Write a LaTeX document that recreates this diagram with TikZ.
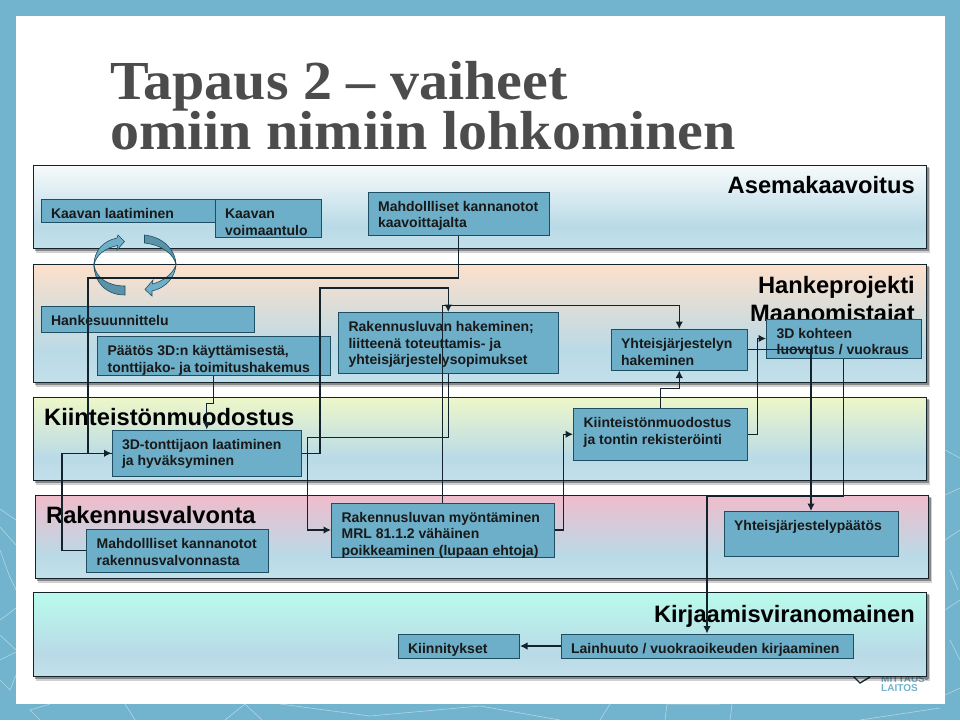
\documentclass[tikz,border=0pt]{standalone}
\usepackage{fontspec}
\setmainfont{Liberation Sans}
\newfontfamily\titlefont[FakeStretch=1.055]{Liberation Serif}
\usetikzlibrary{arrows.meta}

\definecolor{framecol}{HTML}{72B4CD}
\definecolor{boxfill}{HTML}{6DAEC8}
\definecolor{boxedge}{HTML}{1F4E63}
\definecolor{lineink}{HTML}{14232B}
\definecolor{ringlight}{HTML}{6FB0C8}
\definecolor{ringdark}{HTML}{5A93A8}
\definecolor{bandlow}{HTML}{C3E0EA}
\definecolor{bandmid}{HTML}{B9DAE7}
\definecolor{topplan}{HTML}{F7FBFB}
\definecolor{topproj}{HTML}{FDE0CB}
\definecolor{topkiin}{HTML}{EEF7C8}
\definecolor{toprak}{HTML}{F0BCCB}
\definecolor{topkirj}{HTML}{B9FBEC}

% --- vertical fills of the bands: 25bp is the lower edge, 75bp the upper edge ---
\pgfdeclareverticalshading{bandplan}{100bp}{color(0bp)=(bandlow);color(25bp)=(bandlow);color(38bp)=(bandmid);color(75bp)=(topplan);color(100bp)=(topplan)}
\pgfdeclareverticalshading{bandproj}{100bp}{color(0bp)=(bandlow);color(25bp)=(bandlow);color(38bp)=(bandmid);color(75bp)=(topproj);color(100bp)=(topproj)}
\pgfdeclareverticalshading{bandkiin}{100bp}{color(0bp)=(bandlow);color(25bp)=(bandlow);color(38bp)=(bandmid);color(75bp)=(topkiin);color(100bp)=(topkiin)}
\pgfdeclareverticalshading{bandrak}{100bp}{color(0bp)=(bandlow);color(25bp)=(bandlow);color(38bp)=(bandmid);color(75bp)=(toprak);color(100bp)=(toprak)}
\pgfdeclareverticalshading{bandkirj}{100bp}{color(0bp)=(bandlow);color(25bp)=(bandlow);color(38bp)=(bandmid);color(75bp)=(topkirj);color(100bp)=(topkirj)}

\tikzset{
  bandbox/.style={draw=lineink,line width=0.9pt,inner sep=0pt},
  stepbox/.style={draw=boxedge,fill=boxfill,line width=1pt,inner sep=0pt},
  boxtext/.style={anchor=north west,inner sep=0pt,align=left,xshift=10.4pt,yshift=-8.8pt,
    text=black!90,font=\fontsize{14}{16.7}\selectfont\bfseries},
  heading/.style={inner sep=0pt,text=black,font=\fontsize{23.7}{28}\selectfont\bfseries},
  link/.style={draw=lineink,line width=1.3pt},
  linkarrow/.style={link,-{Latex[length=7.5pt,width=7.5pt]}},
  ringline/.style={draw=boxedge,line width=0.6pt},
}

\begin{document}
\begin{tikzpicture}[x=1pt,y=-1pt]

  \def\boxstrut{\rule{0pt}{10.5pt}}
  \useasboundingbox (0,0) rectangle (960,720);

  % --- slide frame with its map pattern ---
  \fill[framecol] (0,0) rectangle (960,720);
  \foreach \pts in {%
    {(0,509) -- (16,520)}, {(0,527) -- (16,545)}, {(0,550) -- (9,575) -- (16,590)},
    {(0,620) -- (16,608)}, {(0,635) -- (16,650)}, {(0,660) -- (16,652)},
    {(0,680) -- (10,690) -- (16,675)}, {(40,720) -- (30,710) -- (50,704)},
    {(125,704) -- (135,720)}, {(225,720) -- (245,704) -- (262,720)},
    {(280,704) -- (370,716) -- (480,706) -- (560,720)}, {(600,720) -- (610,704)},
    {(665,720) -- (667,704) -- (720,704)}, {(730,720) -- (732,704)},
    {(860,720) -- (940,708)}, {(945,450) -- (960,458)}, {(945,495) -- (960,488)},
    {(945,540) -- (960,530)}, {(950,570) -- (958,590)}, {(945,610) -- (960,600)},
    {(950,640) -- (960,660)}, {(945,695) -- (960,688)}%
  } {
    \draw[white,opacity=0.45,line width=0.6pt] \pts;
  }
  \fill[white] (16,16) rectangle (945,704);

  % --- logo, the lowest band hides part of it ---
  \draw[boxedge!60!black,line width=1.4pt] (853,676) -- (860,683) -- (870,677);
  \node[anchor=south west,inner sep=0pt,align=left,text=framecol,
    font=\fontsize{10}{9.5}\selectfont\bfseries] (logo) at (881,692) {MITTAUS-\\LAITOS};

  % --- title ---
  \node[anchor=north west,inner sep=0pt,align=left,text=black!70,
    font=\fontsize{55}{50}\selectfont\titlefont\bfseries] (title) at (110,61.5)
    {Tapaus 2 – vaiheet\\omiin nimiin lohkominen};

  % --- five bands ---
  \foreach \nm/\xa/\ya/\xb/\yb/\shd in {%
    plan/33.5/165/926/248/bandplan,
    proj/33.5/264/926/382/bandproj,
    kiin/33.5/397/926/480/bandkiin,
    rak/35.5/495/928/578/bandrak,
    kirj/33.5/592/926/676/bandkirj%
  } {
    \fill[black,opacity=0.18] (\xa+2,\ya+3) rectangle (\xb+4,\yb+5);
    \fill[black,opacity=0.35] (\xa+1,\ya+2) rectangle (\xb+2.5,\yb+3);
    \shade[shading=\shd] (\xa,\ya) rectangle (\xb,\yb);
    \draw[bandbox] (\xa,\ya) rectangle (\xb,\yb);
  }

  % --- band headings ---
  \node[heading,anchor=base east] (hplan) at (915,193) {Asemakaavoitus};
  \node[heading,anchor=base east] (hproj) at (915,293) {Hankeprojekti};
  \node[heading,anchor=base east] (hmaan) at (915,321) {Maanomistajat};
  \node[heading,anchor=base west] (hkiin) at (44,425) {Kiinteistönmuodostus};
  \node[heading,anchor=base west] (hrak) at (46,523) {Rakennusvalvonta};
  \node[heading,anchor=base east] (hkirj) at (915,622) {Kirjaamisviranomainen};

  % --- step boxes: name, centre, width, height, text ---
  \foreach \nm/\cx/\cy/\w/\h/\txt in {%
    laadinta/128/210.75/174/22.5/{Kaavan laatiminen},
    voimaan/268.25/218.5/106.5/38/{Kaavan\\voimaantulo},
    kaavoitus/458.75/213.5/181.5/43/{Mahdollliset kannanotot\\kaavoittajalta},
    suunnittelu/147.75/319.4/213.5/25.3/{Hankesuunnittelu},
    paatos/213.75/356.1/232.5/39.2/{Päätös 3D:n käyttämisestä,\\tonttijako- ja toimitushakemus},
    rakhaku/448.25/342.75/219.5/60.5/{Rakennusluvan hakeminen;\\liitteenä toteuttamis- ja\\yhteisjärjestelysopimukset},
    yhthaku/679.25/349.75/136.5/40.5/{Yhteisjärjestelyn\\hakeminen},
    kohde/843.75/338.5/154.5/39/{3D kohteen\\luovutus / vuokraus},
    tonttijako/206.75/453.25/189.5/46.5/{3D-tonttijaon laatiminen\\ja hyväksyminen},
    rekisteri/660.5/434.25/174/51.5/{Kiinteistönmuodostus\\ja tontin rekisteröinti},
    rakkanta/177.25/550.75/181.5/42.5/{Mahdollliset kannanotot\\rakennusvalvonnasta},
    myonto/442.75/530/222.5/54/{Rakennusluvan myöntäminen\\MRL 81.1.2 vähäinen\\poikkeaminen (lupaan ehtoja)},
    yhtpaatos/811/534/174/45/{Yhteisjärjestelypäätös},
    kiinnitys/458.75/646/121.5/24/{Kiinnitykset},
    lainhuuto/707/646/292/24/{Lainhuuto / vuokraoikeuden kirjaaminen}%
  } {
    \node[stepbox,minimum width=\w pt,minimum height=\h pt] (\nm) at (\cx,\cy) {};
    \node[boxtext] (\nm txt) at (\nm.north west) {\boxstrut\txt};
  }

  % --- circular arrows between the two upper bands ---
  \filldraw[ringline,fill=ringdark] (125,295) .. controls (105,295) and (94,281) .. (94,265)
    .. controls (96,278) and (108,286) .. (125,286) -- cycle;
  \filldraw[ringline,fill=ringlight] (94,265) .. controls (94,251) and (103,241) .. (117,238)
    -- (118,235) -- (124.5,241.5) -- (117,250) -- (117.5,245.5)
    .. controls (105,248) and (96,255) .. (94,265) -- cycle;
  \filldraw[ringline,fill=ringdark] (144.5,235) .. controls (163,237) and (176,250) .. (176,265)
    .. controls (174,254) and (162,245) .. (144.5,243) -- cycle;
  \filldraw[ringline,fill=ringlight] (176,265) .. controls (175,277) and (166,288) .. (152,291)
    -- (152,296) -- (145,289.5) -- (153,280) -- (152.5,284)
    .. controls (163,281) and (172,275) .. (176,265) -- cycle;

  % --- connectors ---
  \draw[linkarrow] (kaavoitus.south) |- (88,278) |- (tonttijako.west);
  \draw[link] (rakkanta.west) -- ++(-24,0) |- (tonttijako.west);
  \draw[linkarrow] (paatos.south) -- ++(0,27) -| (tonttijako.north);
  \draw[linkarrow] (tonttijako.east) -| (320,288) -| (rakhaku.north);
  \draw[linkarrow] (rakhaku.south) |- (307.7,437.7) |- (myonto.west);
  \draw[linkarrow] (myonto.north) -- ++(0,-197.3) -| (yhthaku.north);
  \draw[linkarrow] (rekisteri.north) -- ++(0,-19.5) -| (yhthaku.south);
  \draw[linkarrow] (myonto.east) -- ++(9.3,0) |- (rekisteri.west);
  \draw[linkarrow] (rekisteri.east) -- ++(9.2,0) |- (kohde.west);
  \draw[linkarrow] (yhthaku.east) -| (yhtpaatos.north);
  \draw[linkarrow] (kohde.south) -- ++(0,137.5) -| (lainhuuto.north);
  \draw[linkarrow] (lainhuuto.west) -- (kiinnitys.east);

\end{tikzpicture}
\end{document}
